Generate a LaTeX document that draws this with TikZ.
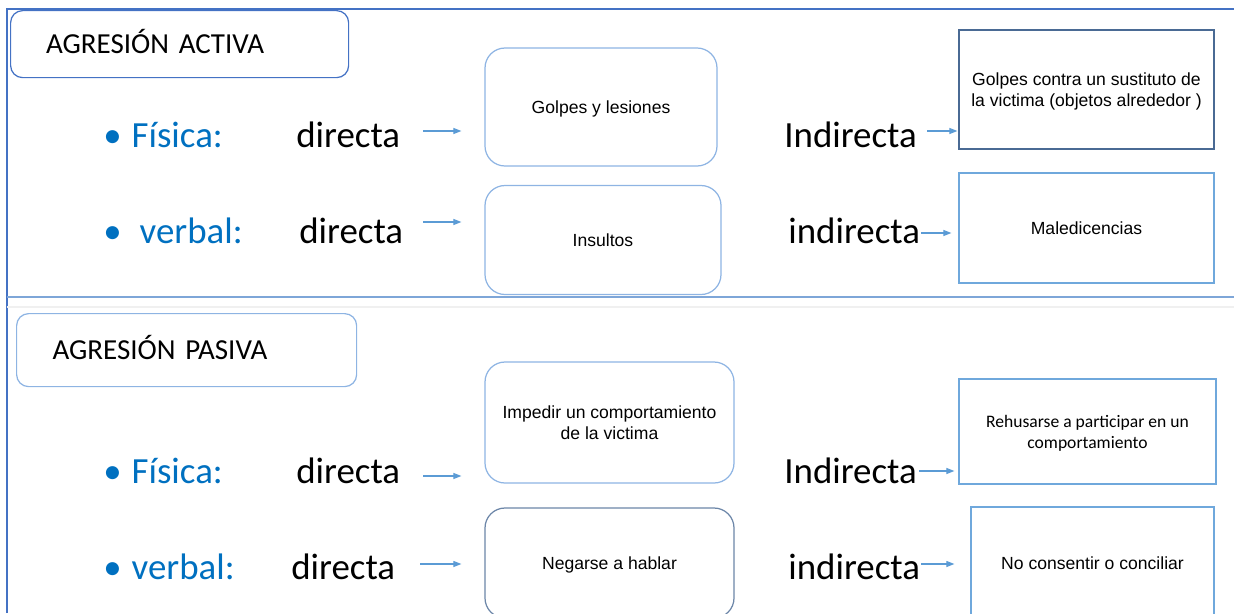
\documentclass[tikz,border=0pt]{standalone}
\usepackage{fontspec}
\setmainfont{Carlito}
\newfontfamily\arialfont{Liberation Sans}
\usepackage{tikz}
\usetikzlibrary{arrows.meta}
\usepackage{xcolor}
\definecolor{frameblue}{HTML}{4472C4}
\definecolor{lineblue}{HTML}{7EA6D8}
\definecolor{softblue}{HTML}{8EB4E3}
\definecolor{darkbox}{HTML}{4A6A94}
\definecolor{greybox}{HTML}{6C86A8}
\definecolor{rectblue}{HTML}{6FA8DC}
\definecolor{arrowblue}{HTML}{5B9BD5}
\definecolor{labelblue}{HTML}{0070C0}

\begin{document}
\begin{tikzpicture}[x=0.02cm, y=-0.02cm]
        \tikzset{
            titlebox/.style={rounded corners=0.24cm, line width=0.7pt,
                anchor=north west, align=left, text height=0.37cm, text depth=0pt,
                font=\fontsize{16.5}{20}\selectfont},
            softbox/.style={draw=softblue, rounded corners=0.4cm, line width=0.7pt,
                align=center, text depth=0pt, font=\arialfont\fontsize{10}{12}\selectfont},
            plainbox/.style={draw=rectblue, line width=0.7pt,
                align=center, text depth=0pt, font=\arialfont\fontsize{10}{12}\selectfont},
            kind/.style={anchor=west, inner sep=0pt, text=labelblue,
                font=\fontsize{21}{25}\selectfont},
            way/.style={anchor=west, inner sep=0pt,
                font=\fontsize{21}{25}\selectfont},
            arr/.style={arrowblue, line width=0.6pt, -{Triangle[length=1.6mm, width=1.2mm]}}
        }
        \useasboundingbox (0,0) rectangle (1234,613);
        \clip (0,0) rectangle (1234,613);
        % Frame
        \draw [frameblue, line width=0.7pt] (7,613) -- (7,9) -- (1234,9);
        \draw [lineblue, line width=0.8pt] (7,297) -- (1234,297);
        \draw [gray!12, line width=0.6pt] (7,307) -- (1234,307);
        % Titles
        \node [titlebox, draw=frameblue, minimum width=338*0.02cm, minimum height=67*0.02cm,
            text width=267*0.02cm, inner xsep=35*0.02cm]
            (active) at (10,10) {AGRESIÓN ACTIVA};
        \node [titlebox, draw=softblue, minimum width=340*0.02cm, minimum height=73*0.02cm,
            text width=268*0.02cm, inner xsep=36*0.02cm]
            (passive) at (16,313) {AGRESIÓN PASIVA};

        % Agresion activa, fisica
        \node [kind] (fis1) at (103,135) {\textbullet\hspace{0.2cm}Física:};
        \node [way] (dir1) at (296,135) {directa};
        \node [way] (ind1) at (784,135) {Indirecta};
        \node [softbox, minimum width=232*0.02cm, minimum height=118*0.02cm] (golpes) at (601,107) {Golpes y lesiones};
        \node [plainbox, draw=darkbox, minimum width=255*0.02cm, minimum height=119*0.02cm] (sustituto) at (1086.5,89.5)
            {Golpes contra un sustituto de\\la victima (objetos alrededor )};
        \draw [arr, shorten <=0.46cm, shorten >=0.46cm] ([yshift=0.08cm]dir1.east) -- ([yshift=0.08cm]dir1.east -| golpes.west);
        \draw [arr, shorten <=0.2cm, shorten >=0.02cm] ([yshift=0.08cm]ind1.east) -- ([yshift=0.08cm]ind1.east -| sustituto.west);

        % Agresion activa, verbal
        \node [kind] (ver1) at (103,231) {\textbullet\hspace{0.36cm}verbal:};
        \node [way] (dir2) at (299,231) {directa};
        \node [way] (ind2) at (788,231) {indirecta};
        \node [softbox, minimum width=236*0.02cm, minimum height=109*0.02cm] (insultos) at (603,240) {Insultos};
        \node [plainbox, minimum width=255*0.02cm, minimum height=110*0.02cm] (maled) at (1086.5,228) {Maledicencias};
        \draw [arr, shorten <=0.4cm, shorten >=0.46cm] ([yshift=0.18cm]dir2.east) -- ([yshift=0.18cm]dir2.east -| insultos.west);
        \draw [arr, shorten <=0.02cm, shorten >=0.14cm] ([yshift=-0.04cm]ind2.east) -- ([yshift=-0.04cm]ind2.east -| maled.west);

        % Agresion pasiva, fisica
        \node [kind] (fis2) at (103,471) {\textbullet\hspace{0.2cm}Física:};
        \node [way] (dir3) at (296,471) {directa};
        \node [way] (ind3) at (784,471) {Indirecta};
        \node [softbox, minimum width=249*0.02cm, minimum height=121*0.02cm] (impedir) at (609.5,422.5)
            {Impedir un comportamiento\\de la victima};
        \node [plainbox, font=\fontsize{10}{12}\selectfont, minimum width=257*0.02cm, minimum height=105*0.02cm] (rehusar) at (1087.5,431.5)
            {Rehusarse a participar en un\\comportamiento};
        \draw [arr, shorten <=0.46cm, shorten >=0.46cm] ([yshift=-0.1cm]dir3.east) -- ([yshift=-0.1cm]dir3.east -| impedir.west);
        \draw [arr, shorten <=0.04cm, shorten >=0.08cm] (ind3.east) -- (ind3.east -| rehusar.west);

        % Agresion pasiva, verbal
        \node [kind] (ver2) at (103,567) {\textbullet\hspace{0.2cm}verbal:};
        \node [way] (dir4) at (291,567) {directa};
        \node [way] (ind4) at (788,567) {indirecta};
        \node [softbox, draw=greybox, minimum width=249*0.02cm, minimum height=110*0.02cm] (negarse) at (609.5,563) {Negarse a hablar};
        \node [plainbox, minimum width=243*0.02cm, minimum height=112*0.02cm] (consentir) at (1092.5,563) {No consentir o conciliar};
        \draw [arr, shorten <=0.5cm, shorten >=0.46cm] ([yshift=0.06cm]dir4.east) -- ([yshift=0.06cm]dir4.east -| negarse.west);
        \draw [arr, shorten <=0.02cm, shorten >=0.32cm] ([yshift=0.06cm]ind4.east) -- ([yshift=0.06cm]ind4.east -| consentir.west);
    \end{tikzpicture}
\end{document}
